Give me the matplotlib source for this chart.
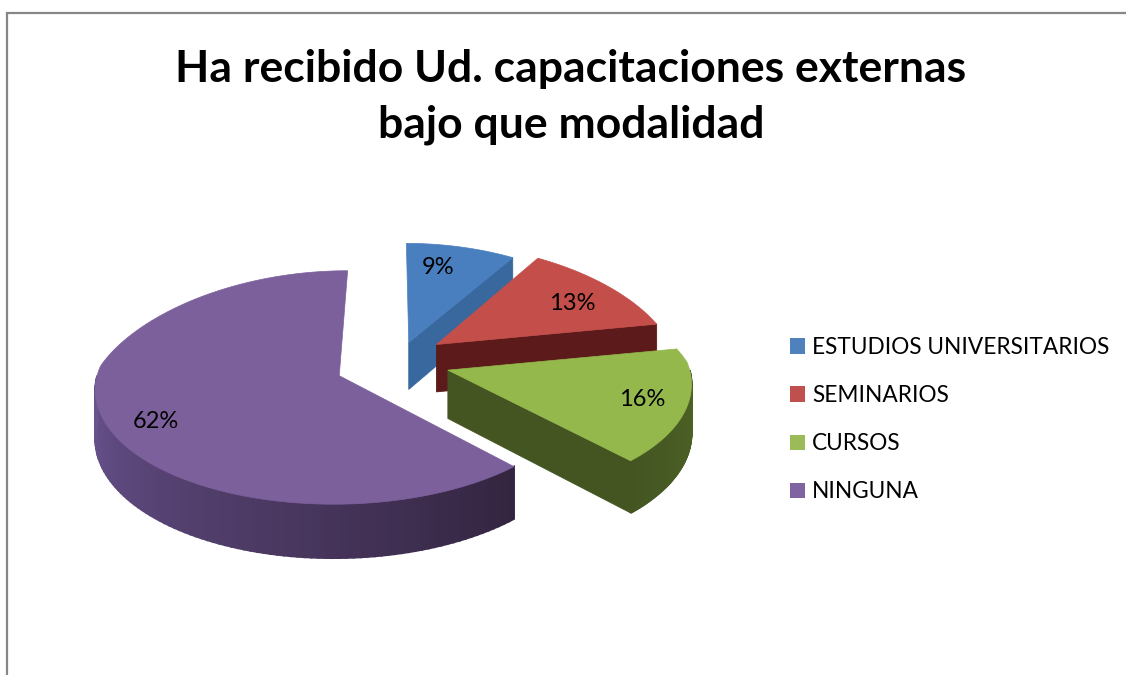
import numpy as np
import matplotlib
matplotlib.use("Agg")
import matplotlib.pyplot as plt
from matplotlib.patches import Polygon, Patch
from matplotlib.colors import to_rgb

title = "Ha recibido Ud. capacitaciones externas\nbajo que modalidad"
categories = ["ESTUDIOS UNIVERSITARIOS", "SEMINARIOS", "CURSOS", "NINGUNA"]
values = [9, 13, 16, 62]

legend_colors = ["#4F81BD", "#C0504D", "#9BBB59", "#8064A2"]
top_colors = ["#4A7FBF", "#C44E4A", "#95B84C", "#7C609C"]
radial_colors = ["#38689E", "#5C1A1A", "#445522", "#352642"]
rim_left = ["#38689E", "#5C1A1A", "#445522", "#6A5490"]
rim_right = ["#38689E", "#5C1A1A", "#4F6526", "#33243F"]
label_xy = [(438, 268), (572, 304), (642, 400), (156, 422)]
slice_shift = [(-1, 0), (-3, -8), (0, -5), (-4, -1)]

CX, CY, A, B = 395, 367, 240, 113.6
EXPLODE = 0.23
DEPTH = 48
KY, KX_FAR, KX_NEAR = 0.10, 0.20, 0.10


def project(u, v):
    u, v = np.asarray(u, float), np.asarray(v, float)
    kx = np.where(v > 0, KX_FAR, KX_NEAR)
    return CX + A * u / (1 + kx * v), CY - B * v / (1 + KY * v)


def pts(u, v, shift, drop=False):
    x, y = project(u, v)
    if drop:
        y = y + DEPTH / (1 + KY * np.asarray(v, float))
    return np.column_stack([np.atleast_1d(x) + shift[0], np.atleast_1d(y) + shift[1]])


fig = plt.figure(figsize=(11.26, 6.75), dpi=100, facecolor="white")
ax = fig.add_axes([0, 0, 1, 1])
ax.set_xlim(0, 1126)
ax.set_ylim(675, 0)
ax.axis("off")

ax.plot([7, 7, 1126], [675, 13, 13], color="#878787", lw=1.6, solid_joinstyle="miter")

ax.text(571, 97, title, ha="center", va="center", fontsize=32, fontweight="bold",
        family="Lato", color="black", linespacing=1.45)

edges = np.cumsum([0] + values) / sum(values) * 2 * np.pi
for i in range(len(values)):
    a0, a1 = edges[i], edges[i + 1]
    mid = (a0 + a1) / 2
    ou, ov = EXPLODE * np.sin(mid), EXPLODE * np.cos(mid)
    sh = slice_shift[i]

    # radial face on the trailing edge, when it faces the viewer
    if a1 < np.pi:
        ru = np.array([ou, ou + np.sin(a1)])
        rv = np.array([ov, ov + np.cos(a1)])
        face = np.vstack([pts(ru, rv, sh), pts(ru, rv, sh, True)[::-1]])
        ax.add_patch(Polygon(face, closed=True, fc=radial_colors[i], ec=radial_colors[i], lw=0.6))

    # outer rim, front half only
    s0, s1 = max(a0, np.pi / 2), min(a1, 3 * np.pi / 2)
    if s1 > s0:
        grid = np.linspace(s0, s1, 90)
        c0, c1 = np.array(to_rgb(rim_right[i])), np.array(to_rgb(rim_left[i]))
        for g0, g1 in zip(grid[:-1], grid[1:]):
            gg = np.array([g0, g1])
            ru, rv = ou + np.sin(gg), ov + np.cos(gg)
            t = np.clip(((g0 + g1) / 2 - s0) / (s1 - s0), 0, 1)
            col = c0 + (c1 - c0) * t
            q = np.vstack([pts(ru, rv, sh), pts(ru, rv, sh, True)[::-1]])
            ax.add_patch(Polygon(q, closed=True, fc=col, ec=col, lw=1.4))

    # top surface
    grid = np.linspace(a0, a1, 160)
    ru = np.r_[ou, ou + np.sin(grid)]
    rv = np.r_[ov, ov + np.cos(grid)]
    ax.add_patch(Polygon(pts(ru, rv, sh), closed=True, fc=top_colors[i], ec=top_colors[i], lw=0.5))

    ax.text(*label_xy[i], f"{values[i]}%", ha="center", va="center", fontsize=17,
            family="Lato", color="black")

handles = [Patch(fc=c, ec="none") for c in legend_colors]
ax.legend(handles, categories, loc="upper left", bbox_to_anchor=(783 / 1126, 1 - 330 / 675),
          frameon=False, prop={"family": "Lato", "size": 16.3}, handlelength=0.664, handleheight=0.664,
          handletextpad=0.31, labelspacing=1.2, borderpad=0.3, borderaxespad=0, labelcolor="black")

fig.savefig("out.png", dpi=100)
